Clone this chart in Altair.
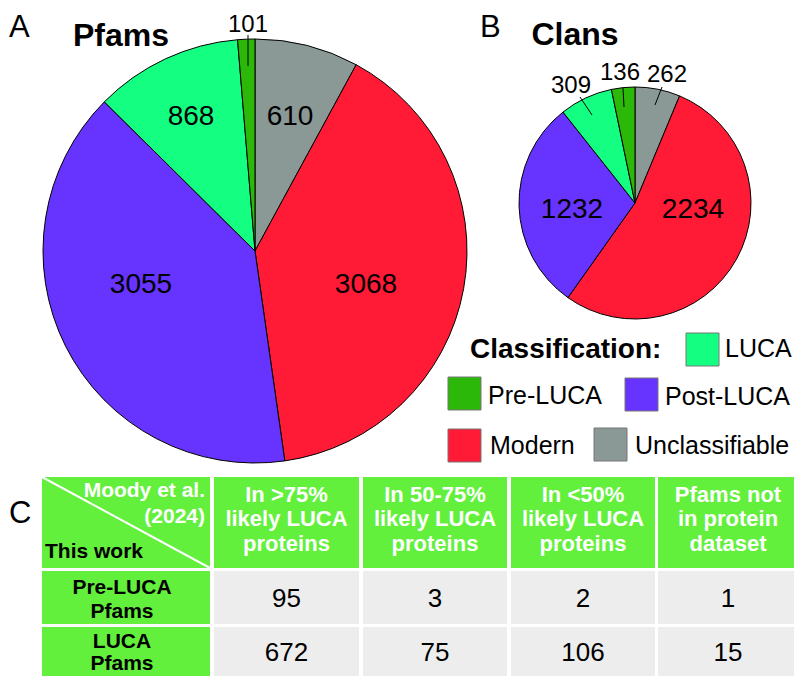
import altair as alt
import pandas as pd

# ---------------- data ----------------
classes = ["Unclassifiable", "Modern", "Post-LUCA", "LUCA", "Pre-LUCA"]
class_colors = ["#8A9896", "#FF1A35", "#6633FF", "#14FF82", "#2BB808"]
pfam_counts = [610, 3068, 3055, 868, 101]
clan_counts = [262, 2234, 1232, 309, 136]

legend_title = "Classification:"
legend_order = ["LUCA", "Pre-LUCA", "Post-LUCA", "Modern", "Unclassifiable"]

corner_top = ["Moody et al.", "(2024)"]
corner_bottom = "This work"
col_headers = [["In >75%", "likely LUCA", "proteins"],
               ["In 50-75%", "likely LUCA", "proteins"],
               ["In <50%", "likely LUCA", "proteins"],
               ["Pfams not", "in protein", "dataset"]]
row_headers = [["Pre-LUCA", "Pfams"], ["LUCA", "Pfams"]]
table_values = [[95, 3, 2, 1], [672, 75, 106, 15]]

# ---------------- layout (reference pixel coordinates) ----------------
OX, OY = 8, 8
W, H = 786, 668
FONT = "Liberation Sans"
TABLE_GREEN = "#62F03C"
CELL_GREY = "#EDEDED"


def px(v):
    return v - OX


def py(v):
    return v - OY


XP = dict(scale=None, axis=None)

pieA = dict(cx=255, cy=251, r=212)
pieB = dict(cx=635, cy=203, r=116)


def pie(counts, cx, cy, r):
    df = pd.DataFrame({"cls": classes, "n": counts, "ord": list(range(len(classes)))})
    return alt.Chart(df).mark_arc(outerRadius=r, stroke="black", strokeWidth=1).encode(
        theta=alt.Theta("n:Q", stack=True),
        order=alt.Order("ord:Q"),
        color=alt.Color("cls:N", scale=alt.Scale(domain=classes, range=class_colors), legend=None),
        x=alt.value(px(cx)), y=alt.value(py(cy)),
    )


def texts(rows, size, weight="normal", color="black", align="center"):
    df = pd.DataFrame([{"x": px(x), "y": py(y), "t": str(t)} for (x, y, t) in rows])
    return alt.Chart(df).mark_text(font=FONT, fontSize=size, fontWeight=weight, color=color,
                                   align=align, baseline="alphabetic").encode(
        x=alt.X("x:Q", **XP), y=alt.Y("y:Q", **XP), text="t:N")


def rules(segs, color="black", width=1):
    df = pd.DataFrame([{"x": px(a), "y": py(b), "x2": px(c), "y2": py(d)} for (a, b, c, d) in segs])
    return alt.Chart(df).mark_rule(color=color, strokeWidth=width).encode(
        x=alt.X("x:Q", **XP), y=alt.Y("y:Q", **XP), x2="x2:Q", y2="y2:Q")


def rects(boxes, fill, stroke=None):
    df = pd.DataFrame([{"x": px(a), "y": py(b), "x2": px(c), "y2": py(d)} for (a, b, c, d) in boxes])
    kw = dict(color=fill)
    if stroke:
        kw.update(stroke=stroke, strokeWidth=1)
    return alt.Chart(df).mark_rect(**kw).encode(
        x=alt.X("x:Q", **XP), y=alt.Y("y:Q", **XP), x2="x2:Q", y2="y2:Q")


layers = []
layers.append(pie(pfam_counts, **pieA))
layers.append(pie(clan_counts, **pieB))

# panel letters and titles
layers.append(texts([(9, 37, "A"), (480, 37, "B"), (9, 523, "C")], 31, align="left"))
layers.append(texts([(121, 46, "Pfams"), (575, 45, "Clans")], 32, weight="bold"))

# pie labels (inside)
inA = {"Unclassifiable": (290, 125), "Modern": (366, 293), "Post-LUCA": (141, 293), "LUCA": (191, 125)}
inB = {"Modern": (693, 218), "Post-LUCA": (572, 218)}
inside = []
for c, n in zip(classes, pfam_counts):
    if c in inA:
        inside.append((inA[c][0], inA[c][1], n))
for c, n in zip(classes, clan_counts):
    if c in inB:
        inside.append((inB[c][0], inB[c][1], n))
layers.append(texts(inside, 28))

# pie labels (outside) with leader lines
outA = {"Pre-LUCA": (248, 32)}
outB = {"Unclassifiable": (667, 82), "LUCA": (571, 93), "Pre-LUCA": (620, 80)}
outside = []
for c, n in zip(classes, pfam_counts):
    if c in outA:
        outside.append((outA[c][0], outA[c][1], n))
for c, n in zip(classes, clan_counts):
    if c in outB:
        outside.append((outB[c][0], outB[c][1], n))
layers.append(texts(outside, 24))
layers.append(rules([(248, 35, 248, 66), (580, 97, 592, 115), (623, 88, 624, 107), (662, 87, 655, 105)]))

# legend
layers.append(texts([(470, 358, legend_title)], 28, weight="bold", align="left"))
sw_pos = {"LUCA": (686, 333), "Pre-LUCA": (448, 377), "Post-LUCA": (625, 378),
          "Modern": (448, 429), "Unclassifiable": (594, 428)}
lab_pos = {"LUCA": (725, 357), "Pre-LUCA": (488, 404), "Post-LUCA": (665, 405),
           "Modern": (490, 454), "Unclassifiable": (635, 454)}
for c in legend_order:
    col = class_colors[classes.index(c)]
    x0, y0 = sw_pos[c]
    layers.append(rects([(x0, y0, x0 + 33, y0 + 33)], col, stroke="#777777"))
layers.append(texts([(lab_pos[c][0], lab_pos[c][1], c) for c in legend_order], 25, align="left"))

# table
col_edges = [(42, 210), (214, 359), (363, 507), (511, 655), (658, 798)]
row_edges = [(477, 568), (571, 624), (627, 676)]
green_boxes, grey_boxes = [], []
for r, (y0, y1) in enumerate(row_edges):
    for c, (x0, x1) in enumerate(col_edges):
        (green_boxes if (r == 0 or c == 0) else grey_boxes).append((x0, y0, x1, y1))
layers.append(rects(green_boxes, TABLE_GREEN))
layers.append(rects(grey_boxes, CELL_GREY))
layers.append(rules([(42, 477, 210, 568)], color="white", width=2))

hdr_baselines = [502, 526, 551]
hdr = []
for c, lines in enumerate(col_headers):
    x0, x1 = col_edges[c + 1]
    for line, yb in zip(lines, hdr_baselines):
        hdr.append(((x0 + x1) / 2, yb, line))
layers.append(texts(hdr, 22, weight="bold", color="white"))
layers.append(texts([(205, 497, corner_top[0]), (205, 523, corner_top[1])], 21, weight="bold",
                    color="white", align="right"))
layers.append(texts([(45, 558, corner_bottom)], 21, weight="bold", align="left"))

row_baselines = [(594, 618), (648, 670)]
rh = []
for lines, ybs in zip(row_headers, row_baselines):
    for line, yb in zip(lines, ybs):
        rh.append((122, yb, line))
layers.append(texts(rh, 21, weight="bold"))

val_baselines = [607, 661]
vals = []
for r, row in enumerate(table_values):
    for c, v in enumerate(row):
        x0, x1 = col_edges[c + 1]
        vals.append(((x0 + x1) / 2, val_baselines[r], v))
layers.append(texts(vals, 26))

chart = alt.layer(*layers).resolve_scale(theta="independent").properties(
    width=W, height=H, padding=0, autosize="none"
).configure_view(stroke=None)

chart.save("out.html", embed_options={"renderer": "svg", "actions": False})
